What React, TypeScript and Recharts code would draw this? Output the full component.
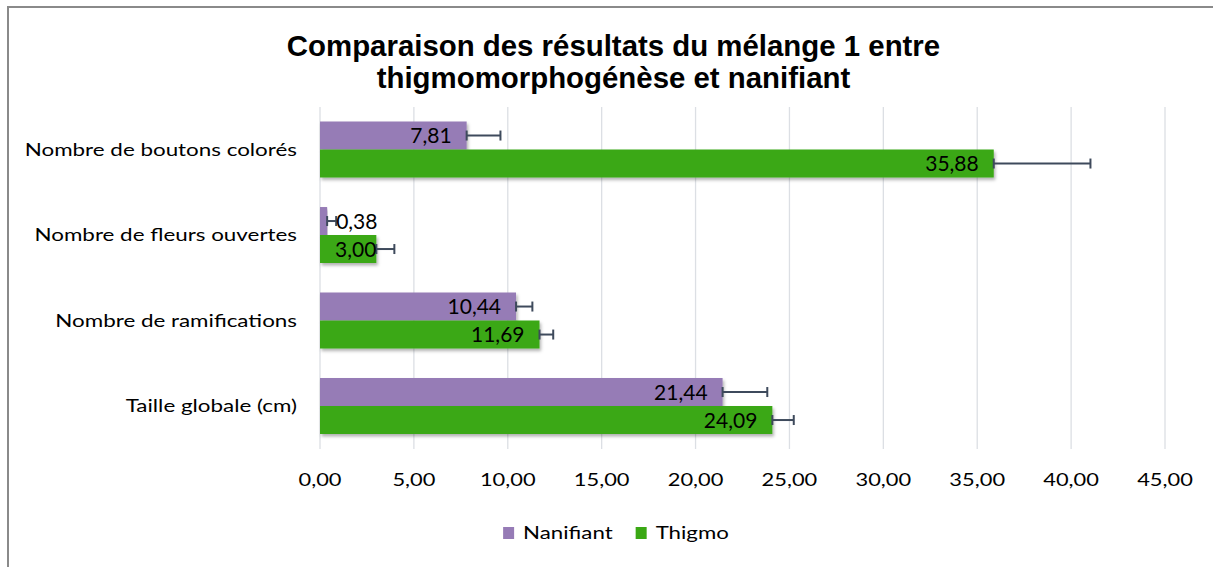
import React from 'react';
import { BarChart, Bar, XAxis, YAxis, CartesianGrid, ErrorBar, LabelList, Legend } from 'recharts';

const categories = [
  'Nombre de boutons colorés',
  'Nombre de fleurs ouvertes',
  'Nombre de ramifications',
  'Taille globale (cm)',
];
const nanifiantValues = [7.81, 0.38, 10.44, 21.44];
const thigmoValues = [35.88, 3.0, 11.69, 24.09];
const nanifiantErrors = [1.8, 0.48, 0.87, 2.38];
const thigmoErrors = [5.15, 0.96, 0.73, 1.14];
const xTicks = [0, 5, 10, 15, 20, 25, 30, 35, 40, 45];
const seriesNames = ['Nanifiant', 'Thigmo'];
const titleLines = ['Comparaison des résultats du mélange 1 entre', 'thigmomorphogénèse et nanifiant'];

const COLORS = ['#967BB6', '#3AA814'];
const FONT = 'Lato, "Open Sans", sans-serif';
const AXIS_SX = 1.28;

const data = categories.map((name, i) => ({
  name,
  nanifiant: nanifiantValues[i],
  thigmo: thigmoValues[i],
  errN: [0, nanifiantErrors[i]],
  errT: [0, thigmoErrors[i]],
}));

const fmt = (v: number) => v.toFixed(2).replace('.', ',');

function measure(text: string, size: number) {
  try {
    const ctx = document.createElement('canvas').getContext('2d');
    if (ctx) {
      ctx.font = `${size}px Lato`;
      return ctx.measureText(text).width;
    }
  } catch (e) {
    /* ignore */
  }
  return text.length * size * 0.5;
}

function SText({ x, y, anchor = 'start', size, sx = AXIS_SX, children, fill = '#000' }: any) {
  return (
    <text
      transform={`translate(${x},${y}) scale(${sx},1)`}
      x={0}
      y={0}
      dy="0.35em"
      textAnchor={anchor}
      fontFamily={FONT}
      fontSize={size}
      fill={fill}
    >
      {children}
    </text>
  );
}

const YTick = (p: any) => (
  <SText x={p.x} y={p.y} anchor="end" size={17.5}>
    {p.payload.value}
  </SText>
);

const XTick = (p: any) => (
  <SText x={p.x} y={p.y + 31} anchor="middle" size={17.5} sx={1.25}>
    {fmt(p.payload.value)}
  </SText>
);

const BarLabel = (props: any) => {
  const { x, y, width, height, value } = props;
  const text = fmt(Number(value));
  const tw = text.length * 10.5;
  const pad = 15;
  let tx = x + width - pad;
  let anchor = 'end';
  if (width < tw + pad) {
    if (width >= tw) {
      tx = x + width;
    } else {
      tx = x + width + 9;
      anchor = 'start';
    }
  }
  return (
    <text x={tx} y={y + height / 2} dy="0.36em" textAnchor={anchor} fontFamily={FONT} fontSize={21} fill="#000">
      {text}
    </text>
  );
};

const LegendContent = () => {
  const size = 17.4;
  const items = seriesNames.map((n, i) => {
    const tw = measure(n, size) * AXIS_SX;
    return { n, c: COLORS[i], tw, w: 20 + tw };
  });
  const gap = 23;
  const total = items.reduce((s, it) => s + it.w, 0) + gap * (items.length - 1);
  let cx = 616 - total / 2;
  return (
    <svg width={1213} height={30} style={{ display: 'block' }}>
      {items.map((it) => {
        const x0 = cx;
        cx += it.w + gap;
        return (
          <g key={it.n}>
            <rect x={x0} y={9} width={11} height={12} fill={it.c} />
            <SText x={x0 + 20} y={15} size={size}>
              {it.n}
            </SText>
          </g>
        );
      })}
    </svg>
  );
};

export default function App() {
  return (
    <div style={{ position: 'absolute', left: 0, top: 0, width: 1213, height: 567, background: '#fff', overflow: 'hidden' }}>
      <div
        style={{
          position: 'absolute',
          left: 7,
          top: 6,
          width: 1206,
          height: 561,
          borderTop: '2px solid #8a8a8a',
          borderLeft: '2px solid #8a8a8a',
          boxSizing: 'border-box',
        }}
      />
      <div
        style={{
          position: 'absolute',
          left: 0,
          top: 30,
          width: 1227,
          textAlign: 'center',
          fontFamily: '"Liberation Sans", Arial, sans-serif',
          fontWeight: 'bold',
          fontSize: 29.4,
          lineHeight: '32px',
          color: '#000',
        }}
      >
        {titleLines.map((l) => (
          <div key={l}>{l}</div>
        ))}
      </div>
      <div style={{ position: 'absolute', left: 0, top: 0 }}>
        <BarChart
          width={1213}
          height={567}
          data={data}
          layout="vertical"
          margin={{ top: 107, right: 48, bottom: 58, left: 0 }}
          barCategoryGap="17%"
          barGap={0}
        >
          <defs>
            <filter id="barShadow" x="-5%" y="-20%" width="115%" height="160%">
              <feDropShadow dx="1.5" dy="2.5" stdDeviation="1.8" floodColor="#000" floodOpacity="0.3" />
            </filter>
          </defs>
          <CartesianGrid horizontal={false} vertical stroke="#DCDFE4" strokeWidth={1.3} />
          <XAxis
            type="number"
            domain={[0, 45]}
            ticks={xTicks}
            axisLine={false}
            tickLine={false}
            tickSize={0}
            tickMargin={0}
            tick={<XTick />}
            interval={0}
            height={30}
          />
          <YAxis
            type="category"
            dataKey="name"
            width={320}
            axisLine={false}
            tickLine={false}
            tickSize={0}
            tickMargin={23}
            tick={<YTick />}
            interval={0}
          />
          <Legend
            verticalAlign="bottom"
            content={<LegendContent />}
            wrapperStyle={{ position: 'absolute', top: 518, left: 0, width: 1213, height: 30 }}
          />
          <Bar dataKey="nanifiant" name={seriesNames[0]} fill={COLORS[0]} isAnimationActive={false} filter="url(#barShadow)">
            <ErrorBar dataKey="errN" direction="x" width={5} stroke="#3E4A5C" strokeWidth={2} />
            <LabelList dataKey="nanifiant" content={<BarLabel />} />
          </Bar>
          <Bar dataKey="thigmo" name={seriesNames[1]} fill={COLORS[1]} isAnimationActive={false} filter="url(#barShadow)">
            <ErrorBar dataKey="errT" direction="x" width={5} stroke="#3E4A5C" strokeWidth={2} />
            <LabelList dataKey="thigmo" content={<BarLabel />} />
          </Bar>
        </BarChart>
      </div>
    </div>
  );
}
